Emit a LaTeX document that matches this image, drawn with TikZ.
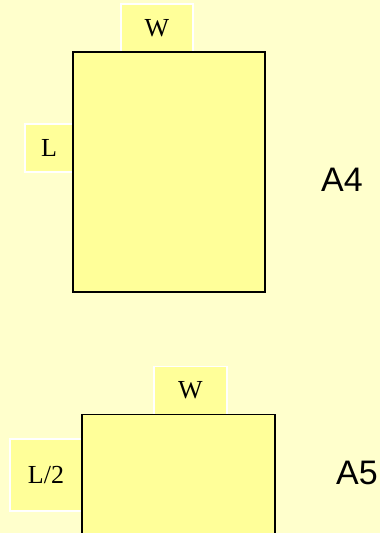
\documentclass[tikz,border=0pt]{standalone}
\usepackage{fontspec}
\setmainfont{Liberation Serif}
\newfontfamily\labsans{Liberation Sans}
\definecolor{bgc}{HTML}{FFFFCC}
\definecolor{paper}{HTML}{FFFF99}
\tikzset{
  lbl/.style={draw=white, line width=1.5pt, fill=paper, inner sep=0pt, font=\fontsize{26}{31}\selectfont},
  sheet/.style={draw=black, line width=1.8pt, fill=paper, inner sep=0pt},
  fmt/.style={inner sep=0pt, font=\labsans\fontsize{34}{40}\selectfont}
}
\begin{document}
\begin{tikzpicture}[x=1pt,y=1pt]
\fill[bgc] (0,0) rectangle (380,-533);
\useasboundingbox (0,0) rectangle (380,-533);
\clip (0,0) rectangle (380,-533);
% A4
\node[lbl, minimum width=72pt, minimum height=48pt] (w1) at (157,-28) {W};
\node[lbl, minimum width=48pt, minimum height=48pt] (l1) at (49,-148) {L};
\node[sheet, minimum width=192pt, minimum height=240pt] (a4) at (169,-172) {};
\node[fmt] (t4) at (342,-180) {A4};
% A5
\node[lbl, minimum width=73pt, minimum height=48pt] (w2) at (190.5,-390.5) {W};
\node[lbl, minimum width=72pt, minimum height=72pt] (l2) at (46,-475) {L/2};
\node[sheet, minimum width=193pt, minimum height=240pt] (a5) at (178.5,-534.5) {};
\node[fmt] (t5) at (357,-473) {A5};
\end{tikzpicture}
\end{document}
